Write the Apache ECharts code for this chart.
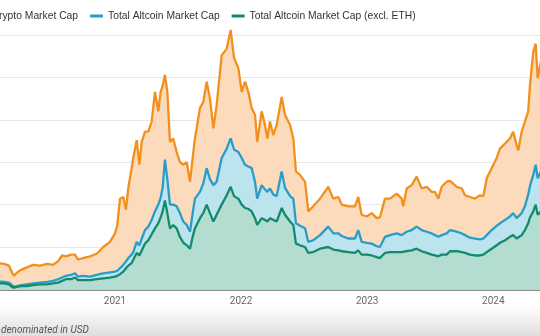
<!DOCTYPE html>
<html>
<head>
<meta charset="utf-8">
<script src="https://cdn.jsdelivr.net/npm/echarts@6/dist/echarts.min.js"></script>
<style>
html,body{margin:0;padding:0;background:#fff;}
#chart{width:540px;height:336px;}
</style>
</head>
<body>
<div id="chart"></div>
<script>
// Time in decimal years
const dates = [2020.072,2020.120,2020.159,2020.183,2020.199,2020.223,2020.255,2020.302,2020.350,2020.405,
2020.461,2020.508,2020.548,2020.580,2020.611,2020.651,2020.683,2020.707,2020.746,2020.802,
2020.855,2020.907,2020.960,2021.000,2021.018,2021.040,2021.066,2021.087,2021.105,2021.132,
2021.145,2021.172,2021.193,2021.212,2021.238,2021.264,2021.291,2021.317,2021.343,2021.362,
2021.378,2021.396,2021.415,2021.436,2021.462,2021.489,2021.515,2021.542,2021.569,2021.595,
2021.616,2021.634,2021.674,2021.700,2021.727,2021.753,2021.780,2021.806,2021.846,2021.886,
2021.917,2021.944,2021.978,2022.005,2022.031,2022.057,2022.084,2022.110,2022.128,2022.163,
2022.189,2022.208,2022.229,2022.255,2022.282,2022.322,2022.348,2022.388,2022.414,2022.435,
2022.467,2022.507,2022.533,2022.572,2022.626,2022.691,2022.731,2022.771,2022.798,2022.850,
2022.903,2022.929,2022.943,2022.956,2022.996,2023.036,2023.075,2023.101,2023.141,2023.181,
2023.234,2023.273,2023.286,2023.313,2023.353,2023.392,2023.432,2023.472,2023.511,2023.538,
2023.564,2023.591,2023.630,2023.657,2023.710,2023.750,2023.776,2023.815,2023.855,2023.894,
2023.921,2023.948,2023.987,2024.027,2024.053,2024.093,2024.132,2024.158,2024.185,2024.198,
2024.225,2024.251,2024.277,2024.291,2024.317,2024.336,2024.352,2024.378];

// Market caps in trillions USD
const totalCrypto = [.31,.30,.28,.20,.16,.20,.23,.26,.29,.28,
.30,.29,.33,.40,.39,.41,.41,.35,.37,.39,
.42,.50,.56,.66,.76,1.07,1.09,.94,1.19,1.43,
1.55,1.76,1.47,1.74,1.86,1.86,1.98,2.33,2.10,2.33,
2.40,2.53,2.33,1.74,1.78,1.62,1.50,1.47,1.50,1.27,
1.55,1.78,2.14,2.21,2.45,2.25,1.90,2.17,2.76,2.84,
3.06,2.73,2.61,2.33,2.45,2.33,2.14,2.06,1.74,2.10,
1.94,1.78,1.98,1.82,1.94,2.27,2.06,1.94,1.78,1.39,
1.35,1.27,.92,.98,1.07,1.21,1.07,1.09,1.00,.98,
.98,1.09,1.11,.88,.86,.90,.84,.85,1.07,1.07,
1.13,1.07,.98,1.19,1.23,1.33,1.19,1.21,1.15,1.15,
1.07,1.21,1.27,1.28,1.21,1.19,1.11,1.09,1.07,1.11,
1.10,1.31,1.43,1.55,1.66,1.72,1.78,1.86,1.70,1.64,
1.86,1.98,2.10,2.41,2.80,2.90,2.49,2.69];

const totalAltcoin = [.09,.09,.08,.05,.03,.04,.05,.06,.07,.08,
.09,.10,.12,.14,.16,.17,.19,.15,.16,.15,
.17,.19,.20,.21,.22,.25,.29,.33,.37,.41,
.44,.56,.52,.60,.70,.74,.82,.92,1.00,1.08,
1.20,1.53,1.30,1.00,1.00,.98,.90,.80,.76,.68,
.90,1.07,1.15,1.25,1.43,1.30,1.23,1.27,1.55,1.66,
1.78,1.65,1.62,1.55,1.47,1.45,1.43,1.27,1.07,1.23,
1.18,1.15,1.19,1.12,1.10,1.39,1.20,1.10,1.07,.78,
.75,.72,.56,.58,.64,.74,.66,.66,.63,.60,
.60,.70,.70,.56,.55,.54,.51,.50,.62,.64,
.66,.64,.62,.68,.70,.74,.70,.68,.66,.64,
.62,.64,.66,.70,.68,.66,.64,.61,.60,.59,
.60,.64,.70,.75,.78,.82,.86,.90,.84,.82,
.90,.98,1.12,1.22,1.35,1.47,1.31,1.39];

const altcoinExEth = [.07,.07,.06,.03,.02,.03,.04,.04,.05,.06,
.06,.07,.08,.10,.12,.12,.14,.11,.11,.11,
.12,.13,.14,.15,.16,.18,.21,.25,.28,.31,
.33,.43,.40,.46,.54,.58,.65,.72,.78,.85,
.92,1.05,.90,.72,.76,.72,.62,.55,.52,.48,
.62,.72,.84,.90,1.00,.90,.80,.88,1.00,1.11,
1.21,1.10,1.07,1.00,.96,.95,.92,.84,.76,.84,
.82,.80,.84,.82,.80,.96,.88,.80,.76,.54,
.52,.50,.43,.44,.48,.50,.47,.46,.45,.44,
.43,.46,.48,.41,.41,.40,.38,.37,.43,.44,
.44,.44,.43,.45,.46,.48,.45,.43,.41,.40,
.39,.41,.41,.45,.45,.44,.43,.41,.40,.40,
.41,.44,.48,.52,.55,.58,.62,.64,.60,.58,
.64,.70,.78,.85,.92,1.00,.88,.92];

const seriesNames = ['Total Crypto Market Cap','Total Altcoin Market Cap','Total Altcoin Market Cap (excl. ETH)'];
const yearLabels = [2021, 2022, 2023, 2024];
const footnote = 'denominated in USD';

const lineColors = ['#F2901C', '#2A9CC8', '#148A6C'];
const areaColors = ['#FCDBBC', '#BCE4EF', '#B4DDD1'];
const valueSets = [totalCrypto, totalAltcoin, altcoinExEth];

const chart = echarts.init(document.getElementById('chart'), null, {renderer: 'canvas'});

const series = seriesNames.map((name, i) => ({
  name: name,
  type: 'line',
  showSymbol: false,
  symbol: 'none',
  smooth: false,
  data: dates.map((d, k) => [d, valueSets[i][k]]),
  lineStyle: {color: lineColors[i], width: 2.3},
  itemStyle: {color: lineColors[i]},
  areaStyle: {color: areaColors[i], opacity: 1},
  z: 2 + i
}));

chart.setOption({
  animation: false,
  backgroundColor: '#ffffff',
  grid: {left: -11.1, right: -79.4, top: -7.4, bottom: 46.6, containLabel: false, outerBoundsMode: 'none'},
  legend: {
    data: seriesNames,
    left: -56,
    top: 6,
    icon: 'rect',
    itemWidth: 13,
    itemHeight: 3,
    itemGap: 12,
    textStyle: {fontFamily: 'Liberation Sans', fontSize: 10.3, color: '#333333'}
  },
  xAxis: {
    type: 'value',
    min: 2020,
    max: 2025,
    interval: 1,
    axisLine: {show: true, lineStyle: {color: '#666666', width: 1.5}},
    axisTick: {show: false},
    splitLine: {show: false},
    axisLabel: {
      margin: 7,
      fontFamily: 'Roboto',
      fontSize: 10,
      color: '#666666',
      formatter: v => (yearLabels.indexOf(Math.round(v)) >= 0 ? String(Math.round(v)) : '')
    }
  },
  yAxis: {
    type: 'value',
    min: 0,
    max: 3.5,
    interval: 0.5,
    axisLine: {show: false},
    axisTick: {show: false},
    axisLabel: {show: false},
    splitLine: {lineStyle: {color: '#e6e6e6', width: 1}}
  },
  graphic: [
    {
      type: 'rect',
      left: 0, top: 306,
      shape: {width: 540, height: 30},
      style: {fill: new echarts.graphic.LinearGradient(0, 0, 0, 1, [
        {offset: 0, color: 'rgba(0,0,0,0)'},
        {offset: 1, color: 'rgba(0,0,0,0.13)'}
      ])},
      z: 0, silent: true
    },
    {
      type: 'text',
      left: 1, top: 325,
      style: {text: footnote, fontFamily: 'Roboto', fontStyle: 'italic', fontSize: 10, fill: '#555555'},
      z: 5
    }
  ],
  series: series
});
</script>
</body>
</html>
